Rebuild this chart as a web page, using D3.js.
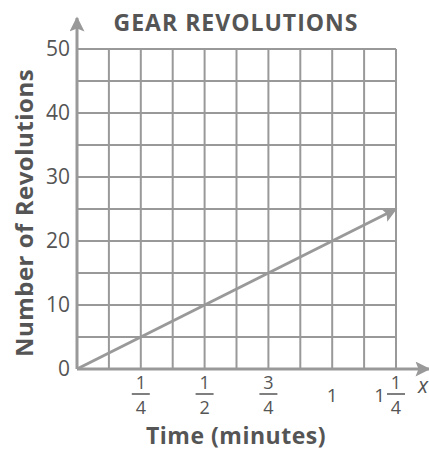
<!DOCTYPE html>
<html>
<head>
<meta charset="utf-8">
<script src="https://cdn.jsdelivr.net/npm/d3@7"></script>
<style>
  body { margin: 0; background: #fff; }
  text { font-family: "Open Sans", "Noto Sans", sans-serif; }
</style>
</head>
<body>
<div class="chart"></div>
<script>
// data
var times = [0, 1.25];
var revolutions = [0, 25];
var yTicks = [0, 10, 20, 30, 40, 50];
var xTicks = [0.25, 0.5, 0.75, 1, 1.25];
var xWhole = ["", "", "", "1", "1"];
var xNum = ["1", "1", "3", "", "1"];
var xDen = ["4", "2", "4", "", "4"];

var width = 429, height = 450;
var gridColor = "#999", textColor = "#555";

var svg = d3.select(".chart").append("svg")
  .attr("width", width)
  .attr("height", height);

var x = d3.scaleLinear().domain([0, 1.25]).range([77, 396]);
var y = d3.scaleLinear().domain([0, 50]).range([369, 49]);

// arrow heads
var defs = svg.append("defs");
defs.append("marker")
  .attr("id", "arrow")
  .attr("viewBox", "0 0 10 10")
  .attr("refX", 9).attr("refY", 5)
  .attr("markerWidth", 6).attr("markerHeight", 5)
  .attr("markerUnits", "strokeWidth")
  .attr("orient", "auto")
  .append("path")
  .attr("d", "M0,0 L10,5 L0,10 L2,5 Z")
  .attr("fill", gridColor);

// grid, every 1/8 minute and every 5 revolutions
var grid = svg.append("g");
grid.selectAll(".vx")
  .data(d3.range(1, 11).map(function (i) { return i * 0.125; }))
  .enter().append("line")
  .attr("x1", function (d) { return x(d); })
  .attr("x2", function (d) { return x(d); })
  .attr("y1", y(0)).attr("y2", y(50))
  .attr("stroke", gridColor).attr("stroke-width", 2);
grid.selectAll(".hy")
  .data(d3.range(1, 11).map(function (i) { return i * 5; }))
  .enter().append("line")
  .attr("x1", x(0)).attr("x2", x(1.25))
  .attr("y1", function (d) { return y(d); })
  .attr("y2", function (d) { return y(d); })
  .attr("stroke", gridColor).attr("stroke-width", 2);

// axes with arrows
svg.append("line")
  .attr("x1", x(0)).attr("y1", y(0))
  .attr("x2", x(0)).attr("y2", 18)
  .attr("stroke", gridColor).attr("stroke-width", 3)
  .attr("marker-end", "url(#arrow)");
svg.append("line")
  .attr("x1", x(0)).attr("y1", y(0))
  .attr("x2", 429).attr("y2", y(0))
  .attr("stroke", gridColor).attr("stroke-width", 3)
  .attr("marker-end", "url(#arrow)");

// data line
var line = d3.line()
  .x(function (d) { return x(d[0]); })
  .y(function (d) { return y(d[1]); });
svg.append("path")
  .datum(d3.zip(times, revolutions))
  .attr("d", line)
  .attr("fill", "none")
  .attr("stroke", gridColor)
  .attr("stroke-width", 3)
  .attr("marker-end", "url(#arrow)");

// y tick labels
svg.selectAll(".ylab")
  .data(yTicks)
  .enter().append("text")
  .attr("x", 70)
  .attr("y", function (d) { return y(d); })
  .attr("dy", "0.35em")
  .attr("text-anchor", "end")
  .attr("font-size", 21)
  .attr("fill", textColor)
  .text(function (d) { return d; });

// x tick labels (fractions)
var xl = svg.selectAll(".xlab")
  .data(xTicks)
  .enter().append("g")
  .attr("transform", function (d) { return "translate(" + x(d) + ",0)"; });
xl.each(function (d, i) {
  var g = d3.select(this);
  if (xNum[i]) {
    g.append("text").attr("y", 389).attr("text-anchor", "middle")
      .attr("font-size", 18).attr("fill", textColor).text(xNum[i]);
    g.append("line").attr("x1", -9).attr("x2", 9)
      .attr("y1", 394).attr("y2", 394)
      .attr("stroke", textColor).attr("stroke-width", 1.5);
    g.append("text").attr("y", 414).attr("text-anchor", "middle")
      .attr("font-size", 18).attr("fill", textColor).text(xDen[i]);
    if (xWhole[i]) {
      g.append("text").attr("x", -11).attr("y", 402).attr("text-anchor", "end")
        .attr("font-size", 19).attr("fill", textColor).text(xWhole[i]);
    }
  } else {
    g.append("text").attr("y", 402).attr("text-anchor", "middle")
      .attr("font-size", 19).attr("fill", textColor).text(xWhole[i]);
  }
});

svg.append("text")
  .attr("x", 418).attr("y", 393)
  .attr("font-size", 21).attr("font-style", "italic")
  .attr("fill", textColor).text("x");

// titles
svg.append("text")
  .attr("x", 236).attr("y", 31)
  .attr("text-anchor", "middle")
  .attr("font-size", 23).attr("font-weight", "bold")
  .attr("letter-spacing", 1)
  .attr("fill", textColor)
  .text("GEAR REVOLUTIONS");

svg.append("text")
  .attr("x", 236).attr("y", 444)
  .attr("text-anchor", "middle")
  .attr("font-size", 23).attr("font-weight", "bold")
  .attr("letter-spacing", 0.5)
  .attr("fill", textColor)
  .text("Time (minutes)");

svg.append("text")
  .attr("transform", "translate(33,213) rotate(-90)")
  .attr("text-anchor", "middle")
  .attr("font-size", 24).attr("font-weight", "bold")
  .attr("letter-spacing", 0.5)
  .attr("fill", textColor)
  .text("Number of Revolutions");
</script>
</body>
</html>
